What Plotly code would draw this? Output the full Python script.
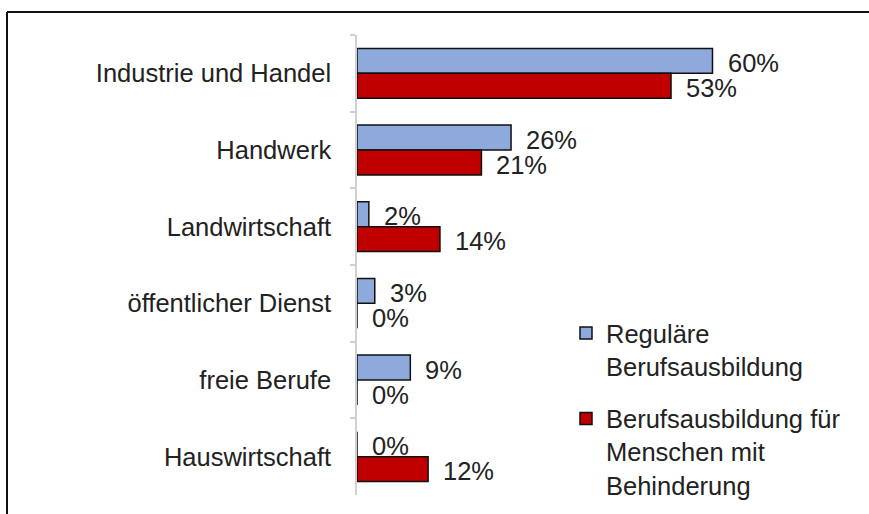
import plotly.graph_objects as go

KATEGORIEN = ['Industrie und Handel', 'Handwerk', 'Landwirtschaft',
              'öffentlicher Dienst', 'freie Berufe', 'Hauswirtschaft']
REGULAER = [60, 26, 2, 3, 9, 0]
BEHINDERUNG = [53, 21, 14, 0, 0, 12]
SERIEN = ['Reguläre<br>Berufsausbildung',
          'Berufsausbildung für<br>Menschen mit<br>Behinderung']

FONT = 'Liberation Sans, Arial, sans-serif'
FS = 25.5
W, H = 869, 514
L, R, T, B = 357, 38, 35, 19
PW, PH = W - L - R, H - T - B


def px_x(px):
    return (px - L) / PW


def px_y(py):
    return (H - B - py) / PH


def add_bar(fig, werte, name, farbe, gruppe, yshift):
    fig.add_trace(go.Bar(
        y=KATEGORIEN,
        x=werte,
        name=name,
        legendgroup=gruppe,
        orientation='h',
        marker={'color': farbe, 'line': {'color': '#111111', 'width': 1.5}},
        hoverinfo='skip',
    ))
    # Beschriftung rechts neben dem Balken
    for kat, v in zip(KATEGORIEN, werte):
        fig.add_annotation(
            x=v, y=kat, text=f'{v}%', showarrow=False,
            xanchor='left', yanchor='middle', xshift=13, yshift=yshift,
            font={'family': FONT, 'size': FS, 'color': '#222222'},
        )


fig = go.Figure()
add_bar(fig, REGULAER, SERIEN[0], '#8eaadc', 'a', 10.5)
add_bar(fig, BEHINDERUNG, SERIEN[1], '#c00000', 'b', -14.5)

fig.update_layout(
    width=W, height=H,
    margin={'l': L, 'r': R, 't': T, 'b': B, 'pad': 0, 'autoexpand': False},
    paper_bgcolor='white', plot_bgcolor='white',
    barmode='group', bargap=0.35, bargroupgap=0,
    font={'family': FONT, 'size': FS, 'color': '#222222'},
    showlegend=True,
    legend={
        'x': px_x(566), 'y': px_y(310),
        'xanchor': 'left', 'yanchor': 'top',
        'traceorder': 'grouped', 'tracegroupgap': 16, 'valign': 'top',
        'font': {'family': FONT, 'size': FS, 'color': '#222222'},
        'bgcolor': 'rgba(0,0,0,0)',
        'itemwidth': 30,
    },
    xaxis={'range': [0, 80], 'visible': False},
    yaxis={
        'autorange': 'reversed',
        'showline': True, 'linecolor': '#d0d0d0', 'linewidth': 1.5,
        'ticks': 'outside', 'tickson': 'boundaries',
        'ticklen': 5, 'tickcolor': '#d0d0d0', 'tickwidth': 1.5,
        'ticklabelstandoff': 19,
        'showgrid': False, 'zeroline': False,
        'tickfont': {'family': FONT, 'size': FS, 'color': '#222222'},
    },
    shapes=[
        {'type': 'line', 'xref': 'paper', 'yref': 'paper',
         'x0': px_x(7), 'x1': px_x(7), 'y0': px_y(12), 'y1': px_y(530),
         'line': {'color': '#111111', 'width': 2}},
        {'type': 'line', 'xref': 'paper', 'yref': 'paper',
         'x0': px_x(7), 'x1': px_x(890), 'y0': px_y(12), 'y1': px_y(12),
         'line': {'color': '#111111', 'width': 2}},
    ],
)

fig.write_html('out.html', config={'displayModeBar': False},
               post_script="document.body.style.margin='0';")
